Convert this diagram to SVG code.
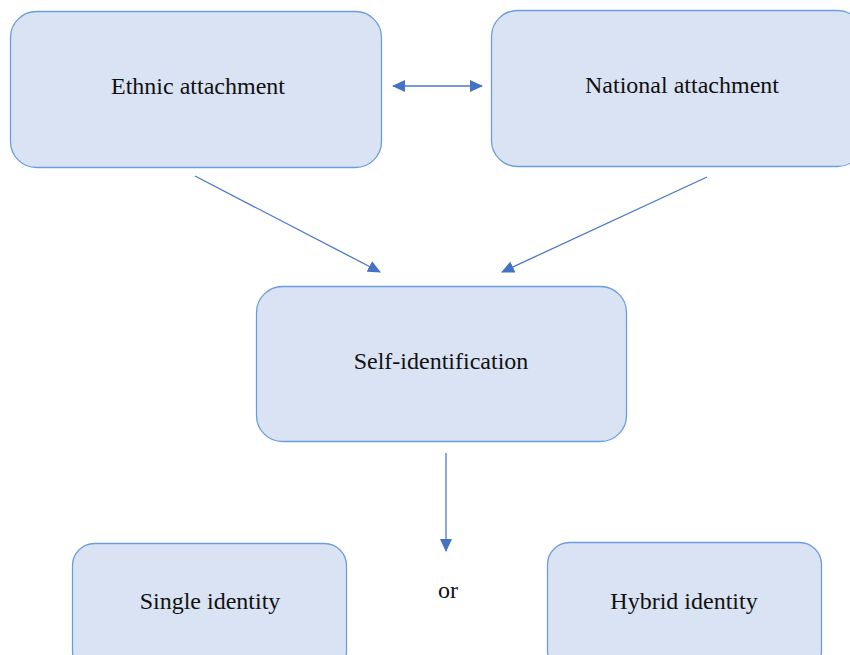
<svg xmlns="http://www.w3.org/2000/svg" width="850" height="655" viewBox="0 0 850 655">
<style>
.box{fill:#dae3f3;stroke:#6a9edb;stroke-width:1.3}
.lbl{font-family:"Liberation Serif","Times New Roman",serif;font-size:24px;fill:#111;text-anchor:middle}
.con{stroke:#4a78c8;stroke-width:1.3;fill:none}
</style>
<defs>
<marker id="ah" markerUnits="userSpaceOnUse" markerWidth="14" markerHeight="12" refX="12" refY="6" orient="auto-start-reverse">
<path d="M0,0 L13,6 L0,12 Z" fill="#4472c4"/>
</marker>
</defs>
<rect width="850" height="655" fill="#fff"/>
<g id="ethnic"><rect class="box" x="10.5" y="11.5" width="371" height="156" rx="26"/><text class="lbl" x="198" y="94">Ethnic attachment</text></g>
<g id="national"><rect class="box" x="491.5" y="10.5" width="372" height="156" rx="26"/><text class="lbl" x="682" y="93">National attachment</text></g>
<g id="self"><rect class="box" x="256.5" y="286.5" width="370" height="155" rx="26"/><text class="lbl" x="441" y="369">Self-identification</text></g>
<g id="single"><rect class="box" x="72.5" y="543.5" width="274" height="130" rx="22"/><text class="lbl" x="210" y="609">Single identity</text></g>
<g id="hybrid"><rect class="box" x="547.5" y="542.5" width="274" height="130" rx="22"/><text class="lbl" x="684" y="609">Hybrid identity</text></g>
<g id="or"><text class="lbl" x="448" y="598">or</text></g>
<g id="connectors">
<line class="con" x1="393" y1="86" x2="482" y2="86" marker-start="url(#ah)" marker-end="url(#ah)"/>
<line class="con" x1="195" y1="176" x2="380" y2="272" marker-end="url(#ah)"/>
<line class="con" x1="707" y1="177" x2="502" y2="272" marker-end="url(#ah)"/>
<line class="con" x1="446" y1="453" x2="446" y2="551" marker-end="url(#ah)"/>
</g>
</svg>
